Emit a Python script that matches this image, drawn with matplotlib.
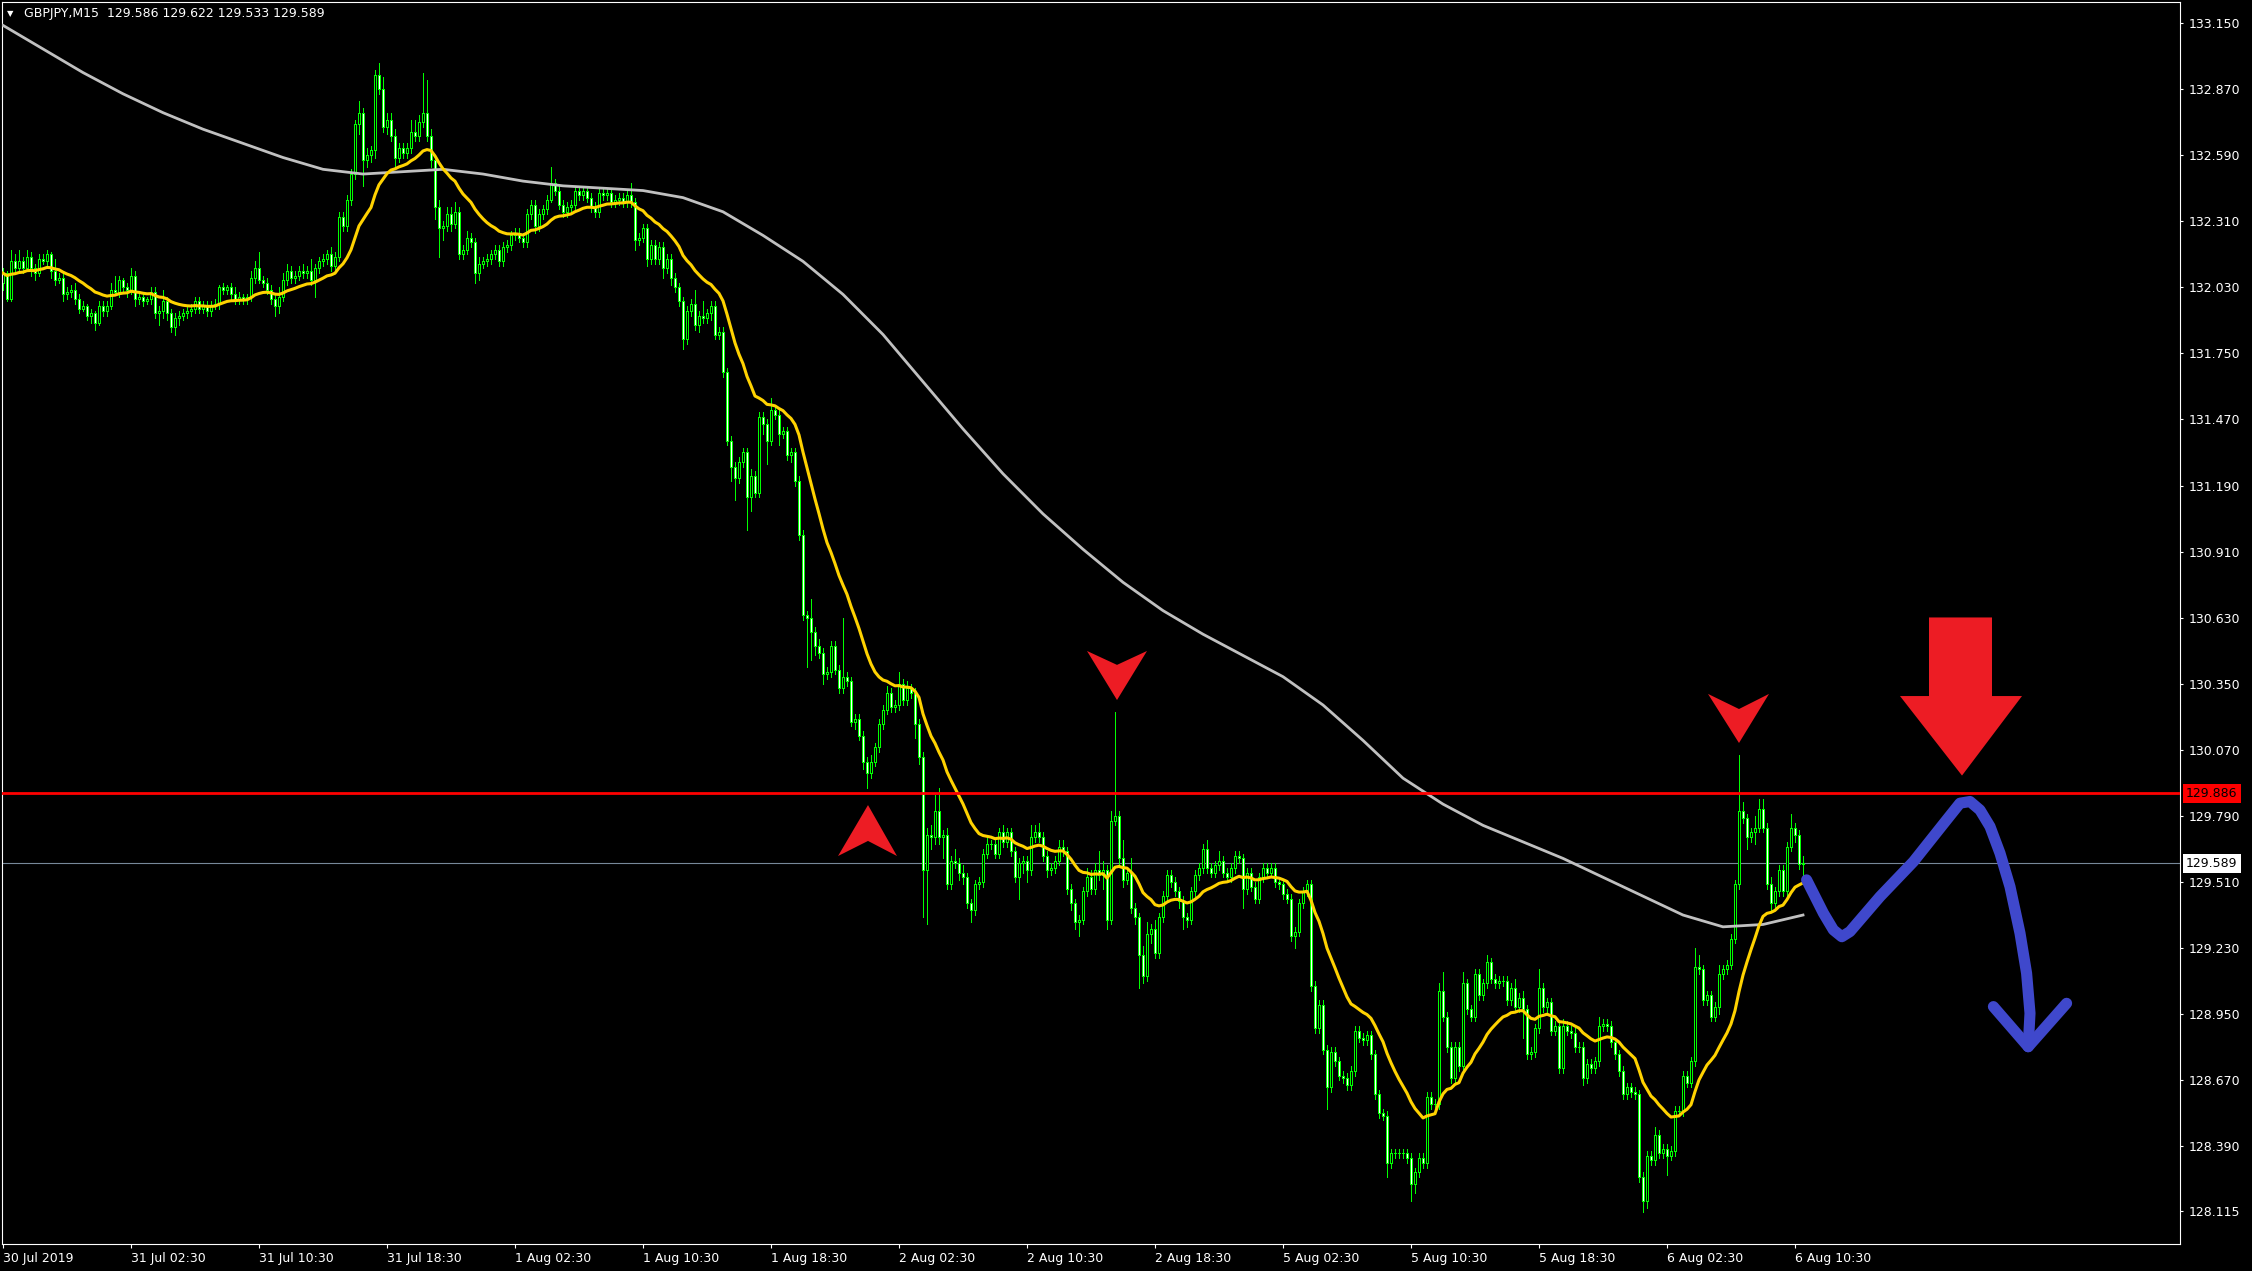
import matplotlib
matplotlib.use("Agg")
import matplotlib.pyplot as plt
import matplotlib.transforms as mtransforms
from matplotlib.patches import Polygon
import numpy as np
import pandas as pd

# ── GBPJPY M15 data ──
first_open = 132.05
closes = [
    132.09, 131.98, 132.14, 132.11, 132.14, 132.11, 132.16, 132.11, 132.09, 132.15,
    132.14, 132.17, 132.10, 132.06, 132.07, 132.00, 132.01, 132.02, 131.98, 131.94,
    131.95, 131.91, 131.92, 131.88, 131.95, 131.93, 131.95, 132.02, 132.01, 132.06,
    132.03, 132.02, 132.08, 131.98, 131.99, 131.97, 131.98, 132.01, 131.92, 131.93,
    131.97, 131.92, 131.86, 131.90, 131.91, 131.92, 131.93, 131.94, 131.97, 131.94,
    131.95, 131.93, 131.95, 131.96, 132.03, 132.02, 132.03, 132.00, 131.98, 131.99,
    131.98, 131.99, 132.07, 132.11, 132.06, 132.05, 132.02, 131.98, 131.95, 131.99,
    132.06, 132.10, 132.07, 132.08, 132.10, 132.09, 132.10, 132.06, 132.11, 132.14,
    132.15, 132.17, 132.12, 132.16, 132.33, 132.29, 132.40, 132.51, 132.72, 132.77,
    132.57, 132.59, 132.61, 132.93, 132.87, 132.71, 132.74, 132.67, 132.58, 132.62,
    132.60, 132.62, 132.69, 132.67, 132.73, 132.77, 132.67, 132.57, 132.37, 132.28,
    132.29, 132.34, 132.30, 132.35, 132.17, 132.19, 132.24, 132.22, 132.09, 132.13,
    132.14, 132.15, 132.17, 132.19, 132.14, 132.20, 132.21, 132.25, 132.26, 132.24,
    132.22, 132.34, 132.38, 132.29, 132.34, 132.36, 132.40, 132.47, 132.44, 132.38,
    132.35, 132.37, 132.38, 132.44, 132.42, 132.44, 132.41, 132.37, 132.35, 132.43,
    132.42, 132.43, 132.39, 132.40, 132.41, 132.39, 132.42, 132.39, 132.23, 132.24,
    132.28, 132.15, 132.21, 132.15, 132.20, 132.11, 132.15, 132.07, 132.03, 131.97,
    131.81, 131.93, 131.96, 131.87, 131.91, 131.90, 131.92, 131.95, 131.83, 131.84,
    131.67, 131.38, 131.27, 131.22, 131.29, 131.33, 131.14, 131.23, 131.16, 131.48,
    131.45, 131.38, 131.51, 131.49, 131.41, 131.42, 131.32, 131.33, 131.21, 130.98,
    130.64, 130.63, 130.57, 130.51, 130.48, 130.39, 130.40, 130.51, 130.41, 130.33,
    130.38, 130.36, 130.19, 130.20, 130.13, 130.02, 129.97, 130.02, 130.08, 130.18,
    130.24, 130.31, 130.25, 130.26, 130.35, 130.28, 130.33, 130.31, 130.18, 130.04,
    129.56, 129.71, 129.70, 129.81, 129.70, 129.71, 129.50, 129.60, 129.59, 129.55,
    129.53, 129.42, 129.39, 129.50, 129.51, 129.63, 129.67, 129.67, 129.63, 129.72,
    129.68, 129.72, 129.64, 129.53, 129.59, 129.60, 129.56, 129.70, 129.72, 129.70,
    129.62, 129.56, 129.57, 129.60, 129.66, 129.64, 129.48, 129.42, 129.34, 129.35,
    129.47, 129.53, 129.48, 129.56, 129.54, 129.56, 129.35, 129.77, 129.79, 129.61,
    129.52, 129.55, 129.40, 129.36, 129.20, 129.11, 129.29, 129.31, 129.21, 129.36,
    129.45, 129.54, 129.51, 129.47, 129.43, 129.36, 129.35, 129.47, 129.54, 129.57,
    129.65, 129.57, 129.55, 129.58, 129.60, 129.55, 129.53, 129.57, 129.62, 129.61,
    129.48, 129.55, 129.49, 129.44, 129.53, 129.57, 129.55, 129.57, 129.51, 129.50,
    129.46, 129.44, 129.28, 129.30, 129.42, 129.47, 129.50, 129.07, 128.89, 128.99,
    128.80, 128.64, 128.79, 128.75, 128.69, 128.68, 128.65, 128.71, 128.88, 128.85,
    128.84, 128.86, 128.78, 128.61, 128.53, 128.52, 128.32, 128.36, 128.36, 128.36,
    128.36, 128.34, 128.23, 128.28, 128.34, 128.32, 128.60, 128.57, 128.57, 129.05,
    128.94, 128.81, 128.68, 128.81, 128.73, 129.08, 128.97, 128.94, 129.12, 129.03,
    129.08, 129.17, 129.10, 129.08, 129.09, 129.09, 129.01, 129.06, 128.98, 129.02,
    128.97, 128.78, 128.79, 128.89, 129.06, 128.98, 129.00, 128.88, 128.90, 128.72,
    128.90, 128.88, 128.87, 128.81, 128.81, 128.68, 128.74, 128.72, 128.75, 128.90,
    128.91, 128.90, 128.83, 128.78, 128.71, 128.61, 128.64, 128.62, 128.61, 128.26,
    128.16, 128.35, 128.33, 128.44, 128.36, 128.38, 128.35, 128.37, 128.54, 128.54,
    128.69, 128.66, 128.75, 129.15, 129.14, 129.01, 129.03, 128.94, 128.98, 129.12,
    129.14, 129.16, 129.27, 129.50, 129.81, 129.78, 129.70, 129.72, 129.74, 129.82,
    129.74, 129.50, 129.42, 129.47, 129.56, 129.47, 129.66, 129.74, 129.71, 129.586,
    129.589,
]
# wick lengths beyond the body, in pips (0.01)
upper_wick_pips = [
    2, 1, 5, 3, 5, 2, 3, 2, 2, 2,   2, 2, 1, 5, 2, 2, 2, 2, 3, 2,
    2, 1, 2, 1, 2, 2, 2, 3, 6, 2,   1, 2, 3, 2, 1, 2, 1, 2, 2, 2,
    5, 2, 2, 2, 2, 2, 2, 2, 2, 2,   2, 2, 2, 2, 1, 2, 1, 2, 3, 2,
    1, 1, 3, 3, 7, 2, 2, 2, 2, 4,   3, 3, 2, 2, 2, 3, 2, 5, 2, 2,
    2, 2, 3, 2, 2, 2, 2, 2, 2, 5,   2, 3, 2, 2, 5, 5, 3, 3, 3, 2,
    2, 2, 5, 5, 3, 17, 14, 3, 2, 3, 2, 3, 3, 4, 2, 2, 3, 2, 2, 3,
    2, 2, 2, 2, 2, 2, 2, 2, 2, 2,   2, 2, 2, 2, 2, 2, 2, 7, 2, 2,
    2, 2, 2, 2, 2, 2, 2, 2, 2, 2,   2, 2, 2, 2, 2, 2, 2, 5, 2, 2,
    2, 2, 2, 2, 2, 2, 2, 2, 2, 2,   2, 2, 2, 6, 2, 6, 2, 2, 2, 2,
    2, 2, 2, 2, 2, 2, 2, 3, 2, 2,   2, 2, 5, 2, 2, 2, 2, 2, 2, 2,
    2, 2, 8, 2, 3, 2, 2, 2, 2, 2,   25, 2, 2, 2, 2, 2, 2, 3, 2, 2,
    2, 3, 2, 2, 5, 2, 3, 2, 2, 2,   2, 3, 4, 7, 10, 2, 3, 2, 5, 2,
    3, 2, 2, 2, 2, 2, 3, 2, 2, 2,   3, 2, 2, 2, 2, 2, 2, 5, 3, 4,
    2, 2, 2, 2, 3, 3, 2, 2, 2, 2,   2, 4, 3, 3, 8, 4, 2, 4, 44, 2,
    8, 2, 6, 2, 2, 4, 5, 2, 4, 2,   2, 2, 2, 2, 2, 2, 2, 2, 2, 2,
    2, 4, 2, 2, 4, 2, 2, 2, 2, 2,   2, 2, 2, 2, 2, 2, 2, 2, 2, 2,
    2, 2, 2, 2, 2, 2, 2, 2, 2, 2,   2, 2, 2, 2, 2, 2, 2, 2, 2, 2,
    2, 2, 2, 2, 2, 2, 2, 2, 2, 2,   2, 2, 2, 2, 2, 2, 2, 2, 2, 3,
    8, 2, 2, 2, 2, 5, 2, 2, 2, 2,   2, 3, 2, 2, 2, 2, 2, 2, 4, 2,
    3, 2, 2, 2, 8, 2, 2, 2, 2, 2,   3, 2, 2, 2, 2, 2, 2, 2, 2, 4,
    2, 2, 2, 2, 2, 2, 2, 2, 2, 2,   2, 2, 2, 3, 2, 2, 2, 2, 2, 2,
    2, 2, 2, 8, 5, 2, 2, 2, 2, 4,   2, 2, 2, 2, 24, 4, 2, 2, 5, 4,
    4, 2, 3, 2, 2, 2, 2, 6, 2, 2,   3.3,
]
lower_wick_pips = [
    3, 1, 1, 2, 1, 2, 1, 3, 3, 1,   1, 2, 3, 2, 1, 3, 2, 2, 2, 2,
    1, 2, 3, 3, 1, 2, 2, 1, 1, 2,   2, 3, 2, 3, 2, 2, 1, 2, 2, 5,
    3, 3, 2, 3, 3, 2, 2, 2, 2, 2,   2, 2, 2, 1, 2, 2, 2, 2, 2, 2,
    2, 2, 2, 2, 1, 2, 2, 2, 4, 3,   2, 2, 2, 2, 2, 2, 2, 2, 7, 2,
    2, 2, 2, 2, 2, 2, 2, 2, 2, 4,   11, 3, 3, 3, 2, 2, 3, 2, 4, 2,
    2, 2, 2, 2, 2, 2, 2, 3, 5, 12,  5, 2, 3, 2, 2, 2, 2, 2, 4, 3,
    2, 2, 2, 2, 2, 2, 2, 2, 2, 2,   2, 2, 2, 3, 2, 2, 2, 1, 2, 2,
    2, 2, 2, 2, 2, 2, 2, 2, 2, 2,   2, 2, 2, 2, 2, 2, 2, 2, 4, 2,
    2, 3, 2, 2, 2, 4, 2, 3, 2, 2,   4, 2, 2, 2, 3, 2, 2, 3, 2, 2,
    2, 2, 6, 9, 2, 2, 14, 6, 2, 2,  4, 10, 2, 2, 5, 2, 2, 3, 2, 2,
    2, 21, 12, 4, 2, 4, 2, 2, 2, 2, 2, 2, 2, 3, 2, 3, 6, 2, 2, 2,
    2, 2, 2, 2, 2, 2, 2, 2, 6, 3,   20, 23, 5, 3, 3, 9, 2, 2, 2, 3,
    3, 2, 5, 2, 2, 2, 2, 2, 2, 2,   2, 2, 2, 2, 9, 4, 5, 2, 2, 2,
    2, 3, 2, 2, 2, 2, 2, 3, 3, 6,   2, 2, 2, 2, 2, 6, 4, 2, 2, 3,
    3, 2, 2, 3, 14, 3, 2, 4, 2, 2,  2, 2, 2, 2, 3, 5, 3, 2, 2, 2,
    2, 2, 2, 2, 2, 2, 2, 2, 2, 2,   8, 2, 2, 2, 2, 2, 2, 2, 2, 2,
    2, 2, 2, 5, 2, 2, 2, 2, 2, 2,   2, 9, 2, 2, 2, 2, 2, 2, 2, 2,
    2, 2, 2, 2, 2, 2, 6, 2, 2, 2,   2, 2, 7, 4, 2, 2, 2, 2, 2, 2,
    2, 2, 2, 2, 2, 2, 2, 2, 2, 2,   2, 2, 2, 2, 2, 2, 2, 2, 2, 2,
    12, 2, 2, 2, 2, 2, 2, 2, 2, 2,  2, 2, 2, 2, 2, 3, 2, 2, 2, 2,
    2, 2, 2, 2, 2, 2, 2, 2, 2, 2,   5, 3, 2, 2, 2, 2, 8, 2, 2, 2,
    2, 2, 2, 2, 2, 2, 2, 2, 2, 3,   2, 2, 2, 2, 2, 2, 5, 2, 5, 2,
    2, 2, 3, 2, 2, 2, 2, 2, 3, 2,   5.3,
]

# slow (200) moving average, read every 10 bars
slow_ma_bars = [0, 10, 20, 30, 40, 50, 60, 70, 80, 90, 100, 110, 120, 130, 140,
                150, 160, 170, 180, 190, 200, 210, 220, 230, 240, 250, 260, 270,
                280, 290, 300, 310, 320, 330, 340, 350, 360, 370, 380, 390, 400,
                410, 420, 430, 440, 450]
slow_ma_values = [133.14, 133.04, 132.94, 132.85, 132.77, 132.70, 132.64, 132.58,
                  132.53, 132.51, 132.52, 132.53, 132.51, 132.48, 132.46, 132.45,
                  132.44, 132.41, 132.35, 132.25, 132.14, 132.00, 131.83, 131.63,
                  131.43, 131.24, 131.07, 130.92, 130.78, 130.66, 130.56, 130.47,
                  130.38, 130.26, 130.11, 129.95, 129.84, 129.75, 129.68, 129.61,
                  129.53, 129.45, 129.37, 129.32, 129.33, 129.37]

resistance_level = 129.886
last_price = 129.589
header_text = "GBPJPY,M15  129.586 129.622 129.533 129.589"

y_ticks = [133.150, 132.870, 132.590, 132.310, 132.030, 131.750, 131.470,
           131.190, 130.910, 130.630, 130.350, 130.070, 129.790, 129.510,
           129.230, 128.950, 128.670, 128.390, 128.115]
x_tick_bars = [0, 32, 64, 96, 128, 160, 192, 224, 256, 288, 320, 352, 384, 416, 448]
x_tick_labels = ["30 Jul 2019", "31 Jul 02:30", "31 Jul 10:30", "31 Jul 18:30",
                 "1 Aug 02:30", "1 Aug 10:30", "1 Aug 18:30", "2 Aug 02:30",
                 "2 Aug 10:30", "2 Aug 18:30", "5 Aug 02:30", "5 Aug 10:30",
                 "5 Aug 18:30", "6 Aug 02:30", "6 Aug 10:30"]

# ── hand-drawn markup (bar index, price) ──
chevrons_down = [
    [(271.0, 130.489), (278.5, 130.430), (286.0, 130.489), (278.5, 130.281)],
    [(426.25, 130.307), (434.0, 130.243), (441.5, 130.307), (434.0, 130.099)],
]
chevron_up = [(208.75, 129.620), (216.25, 129.684), (223.5, 129.620), (216.25, 129.836)]
big_arrow = [(481.5, 130.631), (497.25, 130.631), (497.25, 130.298), (504.75, 130.298),
             (489.75, 129.961), (474.25, 130.298), (481.5, 130.298)]
blue_path = [(450.9, 129.519), (452.6, 129.462), (455.1, 129.378), (457.6, 129.307),
             (459.7, 129.278), (461.75, 129.300), (469.25, 129.448), (477.6, 129.596),
             (485.9, 129.773), (489.25, 129.844), (491.75, 129.851), (494.25, 129.815),
             (496.75, 129.745), (499.25, 129.632), (501.75, 129.490), (504.25, 129.293),
             (505.9, 129.123), (506.75, 128.954), (506.3, 128.812)]
blue_head = [(497.6, 128.982), (506.3, 128.812), (515.9, 128.996)]

LIME = "#00FF00"
GOLD = "#FFD200"
SILVER = "#C0C0C0"
PAINT_RED = "#ED1C24"
PAINT_BLUE = "#3F48CC"

W, H = 2252, 1271
fig = plt.figure(figsize=(W / 100, H / 100), dpi=100, facecolor="black")
ax = fig.add_axes([2 / W, 27 / H, 2178 / W, 1242 / H], facecolor="black")

closes = np.array(closes)
opens = np.concatenate([[first_open], closes[:-1]])
highs = np.maximum(opens, closes) + np.array(upper_wick_pips) * 0.01
lows = np.minimum(opens, closes) - np.array(lower_wick_pips) * 0.01
bars = np.arange(len(closes))
bull = closes >= opens

# candles: wick first, then hollow (bull) / white (bear) body
ax.vlines(bars, lows, highs, color=LIME, linewidth=0.72, zorder=2,
          antialiased=False)
ax.bar(bars, closes - opens, bottom=opens, width=0.55,
       color=np.where(bull, "black", "white"),
       edgecolor=LIME, linewidth=0.72, zorder=2.5, antialiased=False)

# moving averages
fast_ma = pd.Series(closes).ewm(span=20, adjust=False).mean()
ax.plot(slow_ma_bars, slow_ma_values, color=SILVER, linewidth=2.0, zorder=3,
        solid_joinstyle="round")
ax.plot(bars, fast_ma, color=GOLD, linewidth=2.2, zorder=4)

# price lines
ax.axhline(last_price, color="#778899", linewidth=0.8, zorder=1.5)
ax.axhline(resistance_level, color="#FF0000", linewidth=2.0, zorder=5)

# markup
for pts in chevrons_down:
    ax.add_patch(Polygon(pts, closed=True, fc=PAINT_RED, ec="none", zorder=10))
ax.add_patch(Polygon(chevron_up, closed=True, fc=PAINT_RED, ec="none", zorder=10))
ax.add_patch(Polygon(big_arrow, closed=True, fc=PAINT_RED, ec="none", zorder=10))
bx, by = zip(*blue_path)
ax.plot(bx, by, color=PAINT_BLUE, linewidth=8, solid_capstyle="round",
        solid_joinstyle="round", zorder=11)
hx, hy = zip(*blue_head)
ax.plot(hx, hy, color=PAINT_BLUE, linewidth=8, solid_capstyle="round",
        solid_joinstyle="round", zorder=11)

ax.set_xlim(-0.25, 544.25)
ax.set_ylim(127.976, 133.239)

for sp in ax.spines.values():
    sp.set_color("white")
    sp.set_linewidth(0.8)

ax.yaxis.tick_right()
ax.set_yticks(y_ticks)
ax.set_yticklabels([f"{v:.3f}" for v in y_ticks])
ax.tick_params(axis="y", colors="white", length=2.5, width=0.8, pad=4,
               labelsize=9, labelcolor="white")
ax.set_xticks(x_tick_bars)
ax.set_xticklabels(x_tick_labels)
for lbl in ax.get_xticklabels():
    lbl.set_horizontalalignment("left")
ax.tick_params(axis="x", colors="white", length=3, width=0.8, pad=3,
               labelsize=9, labelcolor="white")

# price tags on the right scale
blend = mtransforms.blended_transform_factory(ax.transAxes, ax.transData)
ax.text(1.0028, resistance_level, f"{resistance_level:.3f}", transform=blend,
        ha="left", va="center", fontsize=9, color="black", clip_on=False,
        bbox=dict(boxstyle="square,pad=0.25", fc="#FF0000", ec="none"))
ax.text(1.0028, last_price, f"{last_price:.3f}", transform=blend,
        ha="left", va="center", fontsize=9, color="black", clip_on=False,
        bbox=dict(boxstyle="square,pad=0.25", fc="white", ec="none"))

# header
fig.text(7 / W, 1 - 14 / H, "\u25BC", color="white", fontsize=6,
         ha="left", va="center")
fig.text(24 / W, 1 - 14 / H, header_text, color="white", fontsize=9,
         ha="left", va="center")

fig.savefig("out.png", dpi=100, facecolor="black")
